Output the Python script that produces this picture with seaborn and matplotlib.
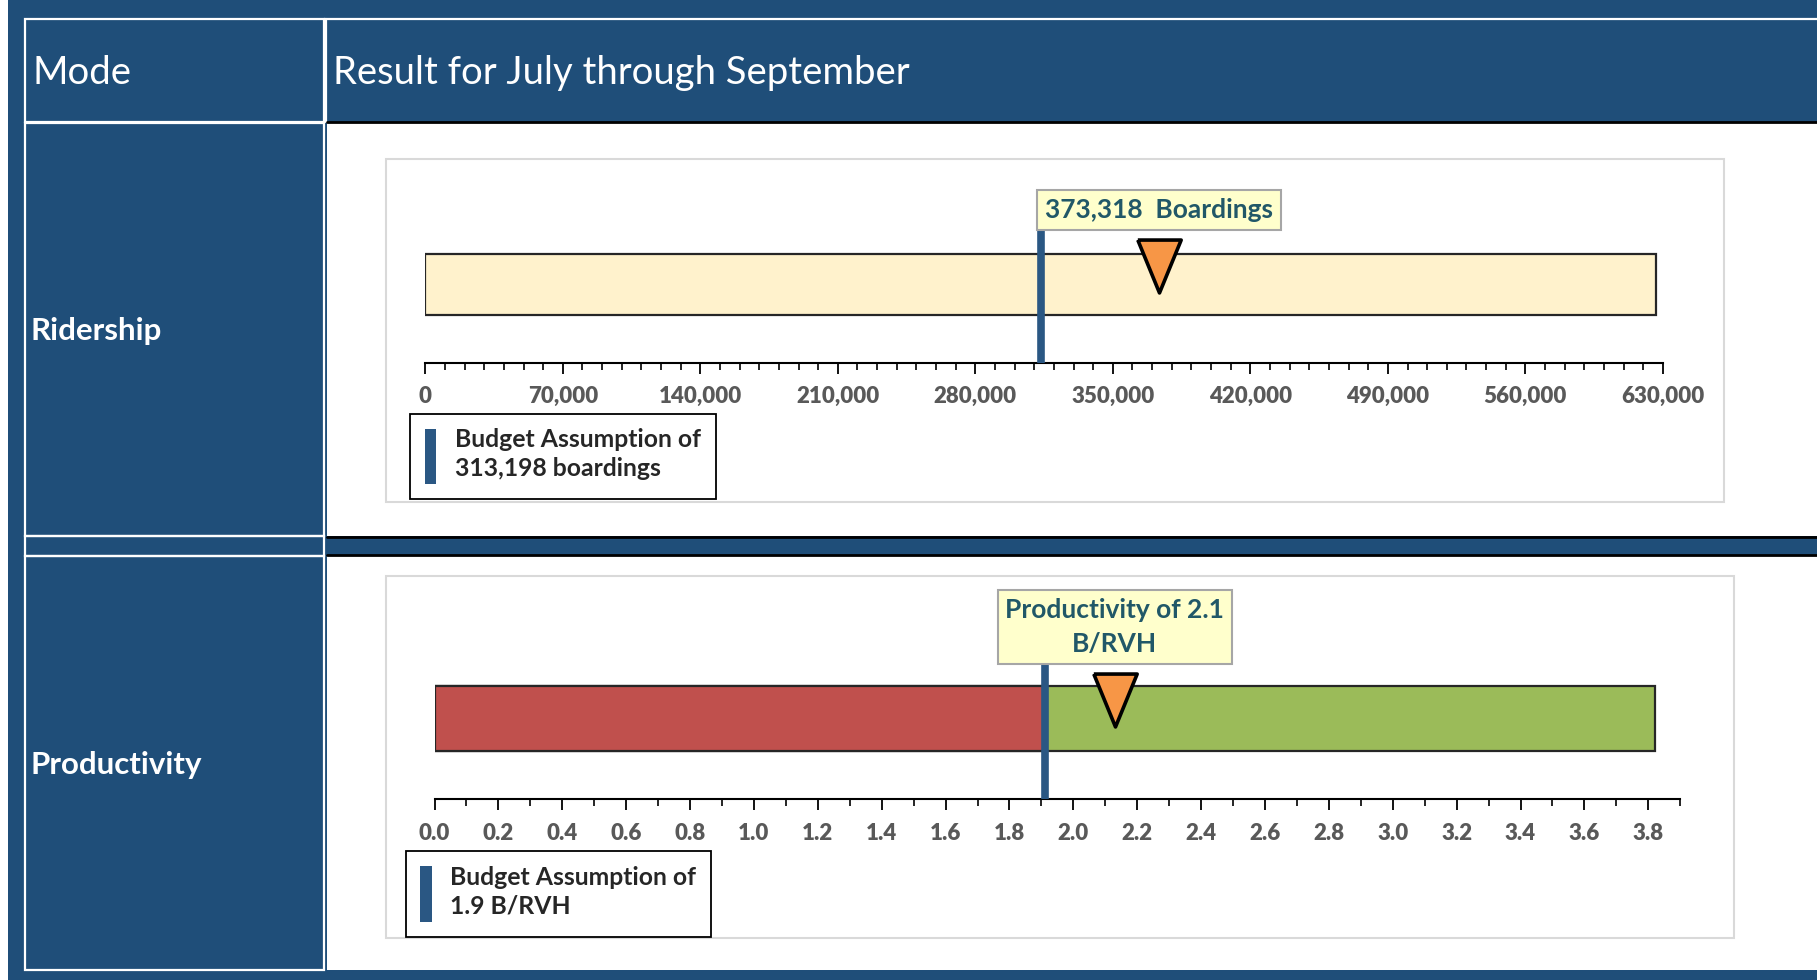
import matplotlib
matplotlib.use("Agg")
import matplotlib.pyplot as plt
import seaborn as sns
from matplotlib.lines import Line2D
from matplotlib.patches import Patch, Rectangle
from matplotlib.ticker import FixedLocator, MultipleLocator

# ---------------------------------------------------------------------------
# Données
# ---------------------------------------------------------------------------
header_mode = "Mode"
header_result = "Result for July through September"
row_labels = ["Ridership", "Productivity"]

ridership_actual = 373318
ridership_budget = 313198
ridership_scale_max = 626396
ridership_ticks = [0, 70000, 140000, 210000, 280000, 350000, 420000, 490000, 560000, 630000]

productivity_actual = 2.13
productivity_budget = 1.91
productivity_scale_max = 3.82
productivity_ticks = [0.0, 0.2, 0.4, 0.6, 0.8, 1.0, 1.2, 1.4, 1.6, 1.8, 2.0,
                      2.2, 2.4, 2.6, 2.8, 3.0, 3.2, 3.4, 3.6, 3.8]

NAVY = "#1F4E79"
LINE_BLUE = "#2A5783"
CREAM = "#FFF2CC"
RED = "#C0504D"
GREEN = "#9BBB59"
ORANGE = "#F79646"
NOTE_FILL = "#FFFFCC"
NOTE_TEXT = "#215868"
TICK_GREY = "#595959"

sns.set_theme(style="white")
plt.rcParams["font.family"] = ["Lato", "DejaVu Sans"]

W, H = 1568.0, 846.0   # repère de mise en page (image réduite)


def fx(x):
    return x / W


def fy(y):
    return 1 - y / H


def rect(fig, x0, y0, x1, y1, **kw):
    fig.add_artist(Rectangle((fx(x0), fy(y1)), fx(x1) - fx(x0), fy(y0) - fy(y1),
                             transform=fig.transFigure, zorder=-2, **kw))


def hline(fig, x0, x1, y, **kw):
    fig.add_artist(Line2D([fx(x0), fx(x1)], [fy(y), fy(y)], transform=fig.transFigure,
                          zorder=-1, **kw))


def vline(fig, x, y0, y1, **kw):
    fig.add_artist(Line2D([fx(x), fx(x)], [fy(y0), fy(y1)], transform=fig.transFigure,
                          zorder=-1, **kw))


fig = plt.figure(figsize=(18.17, 9.8), dpi=100)
fig.patch.set_facecolor(NAVY)

# ---------------------------------------------------------------------------
# Tableau
# ---------------------------------------------------------------------------
rect(fig, 0, 0, 7, H, facecolor="white", edgecolor="none")
rect(fig, 282, 106, W, 463, facecolor="white", edgecolor="none")
rect(fig, 282, 480, W, 837, facecolor="white", edgecolor="none")

for y0, y1 in [(16, 105), (106, 463), (463, 480), (480, 837)]:
    rect(fig, 22, y0, 280, y1, facecolor="none", edgecolor="white", linewidth=1.6)
hline(fig, 280, W, 16, color="white", linewidth=1.6)
vline(fig, 281.5, 16, 105, color="white", linewidth=1.6)
for y in (105.5, 463.5, 479.5):
    hline(fig, 282, W, y, color="black", linewidth=2)

fig.text(fx(28), fy(63), header_mode, color="white", fontsize=27.5, va="center", ha="left")
fig.text(fx(287), fy(63), header_result, color="white", fontsize=27.5, va="center", ha="left")
fig.text(fx(26), fy(286), row_labels[0], color="white", fontsize=22.5, fontweight="bold",
         va="center", ha="left")
fig.text(fx(26), fy(660), row_labels[1], color="white", fontsize=22.5, fontweight="bold",
         va="center", ha="left")

rect(fig, 333, 137, 1488, 433, facecolor="none", edgecolor="#D9D9D9", linewidth=1.5)
rect(fig, 333, 497, 1496, 810, facecolor="none", edgecolor="#D9D9D9", linewidth=1.5)

TRIANGLE = [(-0.41, 0.5), (0.41, 0.5), (0.0, -0.5), (-0.41, 0.5)]


# ---------------------------------------------------------------------------
# Jauges
# ---------------------------------------------------------------------------
def jauge(box, bar_px, note_px, marker_px, xmax, segments, actual, budget,
          ticks, minor, fmt, note, legend_txt, legend_pos):
    left, top, right, bottom = box
    ax = fig.add_axes([fx(left), fy(bottom), fx(right) - fx(left), fy(top) - fy(bottom)])
    ax.patch.set_alpha(0)

    # conversion px -> unité y (barre de largeur 0.8 centrée sur 0)
    height_px = bottom - top
    span = 0.8 / ((bar_px[1] - bar_px[0]) / height_px)
    lo = -0.4 - span * (bottom - bar_px[1]) / height_px

    def yv(px):
        return lo + span * (bottom - px) / height_px

    for value, colour in segments:
        sns.barplot(x=[value], y=[0], orient="h", color=colour, width=0.8,
                    edgecolor="#262626", linewidth=1.6, errorbar=None, saturation=1, ax=ax)

    ax.vlines(budget, lo, yv(note_px), color=LINE_BLUE, linewidth=5.5, zorder=5)
    ax.scatter([actual], [yv(marker_px)], marker=TRIANGLE,
               s=1450, color=ORANGE, edgecolor="black", linewidth=2.6, zorder=6)
    ax.text(actual, yv(note_px), note, ha="center", va="center", fontsize=19,
            fontweight="bold", color=NOTE_TEXT, zorder=7, linespacing=1.5,
            bbox=dict(boxstyle="square,pad=0.3", facecolor=NOTE_FILL,
                      edgecolor="#A6A6A6", linewidth=1.5))

    ax.set_xlim(0, xmax)
    ax.set_ylim(lo, lo + span)
    ax.set_xlabel("")
    ax.set_ylabel("")
    ax.set_yticks([])
    for side in ("left", "top", "right"):
        ax.spines[side].set_visible(False)
    ax.spines["bottom"].set_color("black")
    ax.spines["bottom"].set_linewidth(1.5)
    ax.xaxis.set_major_locator(FixedLocator(ticks))
    ax.xaxis.set_minor_locator(MultipleLocator(minor))
    ax.tick_params(axis="x", which="major", direction="out", length=8, width=1.3,
                   color="black", bottom=True, pad=9, labelcolor=TICK_GREY)
    ax.tick_params(axis="x", which="minor", direction="out", length=5, width=1.2,
                   color="black", bottom=True)
    ax.set_xticklabels([fmt(t) for t in ticks], fontsize=16, fontweight="heavy",
                       color=TICK_GREY)

    handle = Patch(facecolor=LINE_BLUE, edgecolor="none")
    leg = fig.legend([handle], [legend_txt], loc="upper left",
                     bbox_to_anchor=(fx(legend_pos[0]), fy(legend_pos[1])),
                     frameon=True, fancybox=False, framealpha=1, edgecolor="black",
                     handlelength=0.45, handleheight=3.1, handletextpad=0.75,
                     borderpad=0.6, borderaxespad=0, prop=dict(size=17.8, weight="bold"))
    leg.get_frame().set_linewidth(1.3)
    for t in leg.get_texts():
        t.set_linespacing(1.3)
    return ax


jauge(box=(367, 137, 1435, 313), bar_px=(219, 272), note_px=181,
      marker_px=230, xmax=630000,
      segments=[(ridership_scale_max, CREAM)],
      actual=ridership_actual, budget=ridership_budget,
      ticks=ridership_ticks, minor=10000, fmt=lambda v: f"{v:,.0f}",
      note=f"{ridership_actual:,}  Boardings",
      legend_txt=f"Budget Assumption of\n{ridership_budget:,} boardings",
      legend_pos=(354, 357))

jauge(box=(375, 497, 1450, 690), bar_px=(592, 648), note_px=541,
      marker_px=604, xmax=3.9,
      segments=[(productivity_scale_max, GREEN), (productivity_budget, RED)],
      actual=productivity_actual, budget=productivity_budget,
      ticks=productivity_ticks, minor=0.1, fmt=lambda v: f"{v:.1f}",
      note=f"Productivity of {productivity_actual:.1f}\nB/RVH",
      legend_txt=f"Budget Assumption of\n{productivity_budget:.1f} B/RVH",
      legend_pos=(350, 735))

fig.savefig("out.png", dpi=100, facecolor=fig.get_facecolor())
